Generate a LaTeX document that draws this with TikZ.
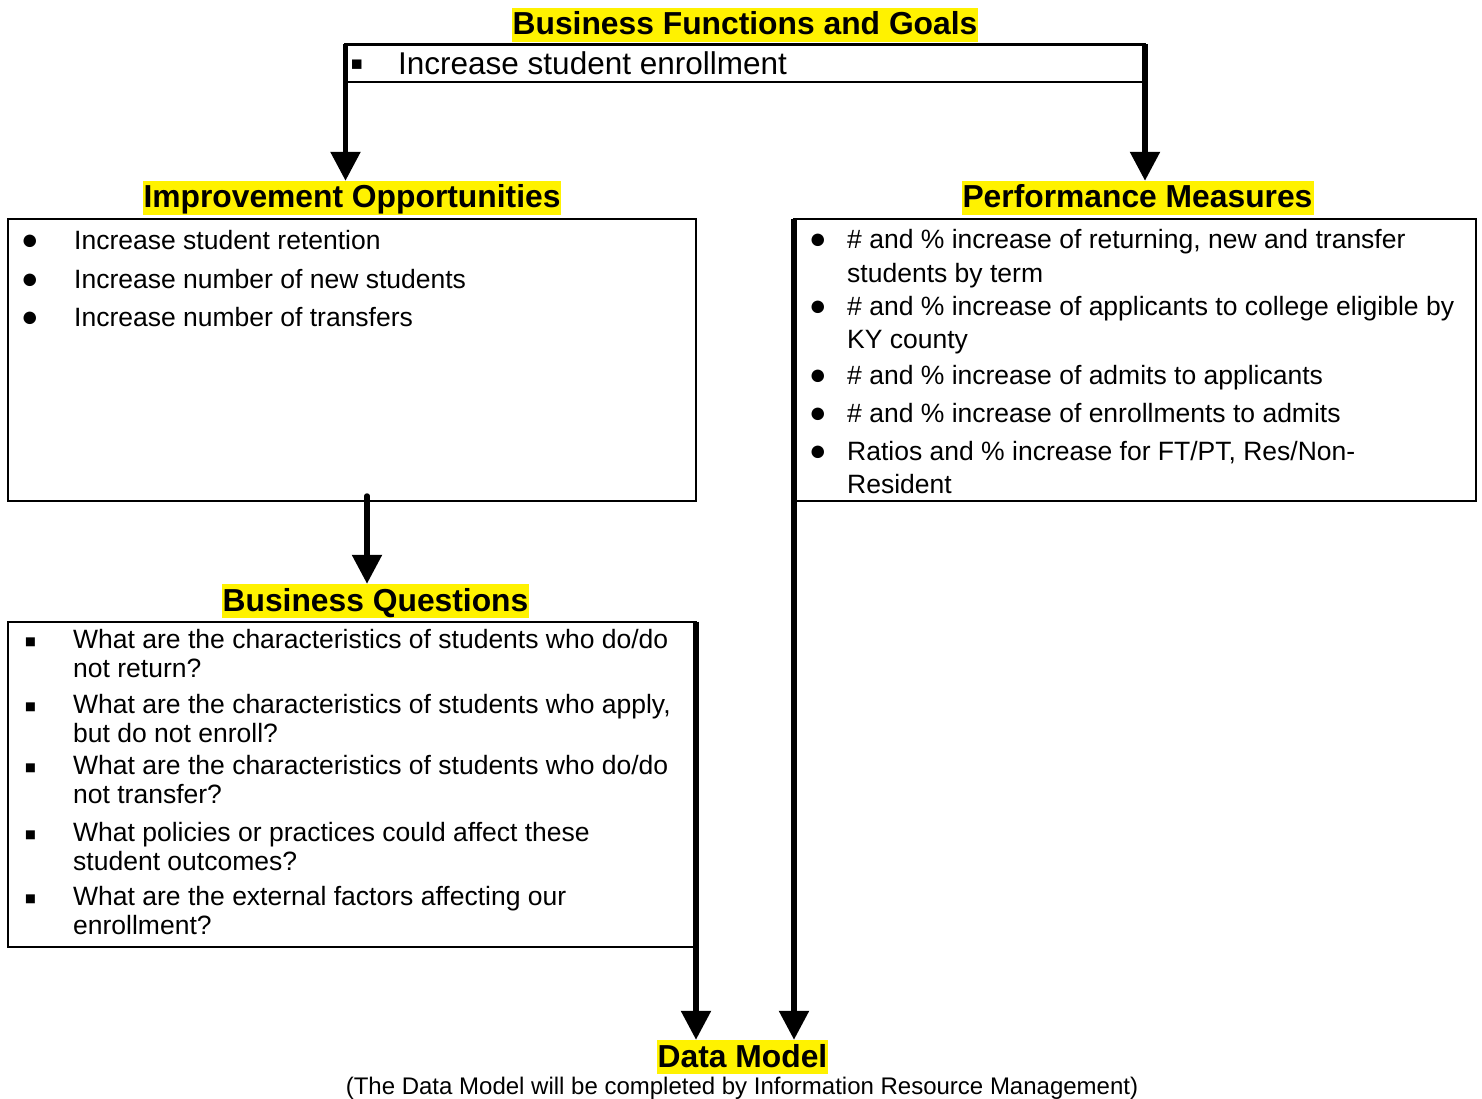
\documentclass[tikz,border=0pt]{standalone}
\usepackage{fontspec}
\setmainfont{Liberation Sans}
\usetikzlibrary{arrows.meta}
\newcommand{\dotbul}[1][53pt]{\llap{\makebox[#1][l]{\fontsize{29}{29}\selectfont ●}}}
\newcommand{\sqbul}{\llap{\makebox[49pt][l]{\raisebox{-5pt}{\fontsize{36}{36}\selectfont ▪}}}}
\begin{document}
\begin{tikzpicture}[x=1pt, y=-1pt, line join=miter,
    head/.style={fill=yellow, font=\fontsize{31.8}{36}\selectfont\bfseries, inner xsep=1pt, inner ysep=0pt, text height=27pt, text depth=7pt, anchor=base},
    box/.style={draw, line width=2pt, inner sep=0pt, outer sep=0pt},
    txt/.style={anchor=base west, align=left, inner sep=0pt, font=\fontsize{26.5}{33}\selectfont},
    arr/.style={line width=5.5pt, -{Triangle[width=29pt,length=29pt]}}]
    \useasboundingbox (0,0) rectangle (1482,1099);
    % headings
    \node[head] (goalshead) at (745,35) {Business Functions and Goals};
    \node[head] (iohead) at (352,208) {Improvement Opportunities};
    \node[head] (pmhead) at (1137.5,208) {Performance Measures};
    \node[head] (bqhead) at (375.5,611) {Business Questions};
    \node[head] (dmhead) at (742.5,1067) {Data Model};
    \node[font=\fontsize{24}{24}\selectfont, anchor=base, inner sep=0pt] (dmnote) at (742,1094) {(The Data Model will be completed by Information Resource Management)};
    % boxes
    \node[box, line width=2.5pt, minimum width=799.5pt, minimum height=37.5pt] (goals) at (745.25,63.25) {};
    \node[box, minimum width=688pt, minimum height=282pt] (io) at (352,360) {};
    \node[box, minimum width=682pt, minimum height=282pt] (pm) at (1135,360) {};
    \node[box, minimum width=688pt, minimum height=325pt] (bq) at (352,784.2) {};
    % texts (two-line items sit on their last line)
    \node[txt, font=\fontsize{31.5}{36}\selectfont] (goals1) at (398,75) {\llap{\makebox[48pt][l]{\raisebox{-2pt}{\fontsize{38}{38}\selectfont ▪}}}Increase student enrollment};
    \node[txt] (io1) at (74,250) {\dotbul Increase student retention};
    \node[txt] (io2) at (74,288) {\dotbul Increase number of new students};
    \node[txt] (io3) at (74,326) {\dotbul Increase number of transfers};
    \node[txt] (pm1) at (847,282) {\dotbul[38pt]\# and \% increase of returning, new and transfer\\students by term};
    \node[txt] (pm2) at (847,348) {\dotbul[38pt]\# and \% increase of applicants to college eligible by\\KY county};
    \node[txt] (pm3) at (847,384) {\dotbul[38pt]\# and \% increase of admits to applicants};
    \node[txt] (pm4) at (847,422) {\dotbul[38pt]\# and \% increase of enrollments to admits};
    \node[txt] (pm5) at (847,493) {\dotbul[38pt]Ratios and \% increase for FT/PT, Res/Non-\\Resident};
    \begin{scope}[txt/.append style={font=\fontsize{26.5}{29}\selectfont}]
    \node[txt] (bq1) at (73,677) {\sqbul What are the characteristics of students who do/do\\not return?};
    \node[txt] (bq2) at (73,742) {\sqbul What are the characteristics of students who apply,\\but do not enroll?};
    \node[txt] (bq3) at (73,803) {\sqbul What are the characteristics of students who do/do\\not transfer?};
    \node[txt] (bq4) at (73,870) {\sqbul What policies or practices could affect these\\student outcomes?};
    \node[txt] (bq5) at (73,934) {\sqbul What are the external factors affecting our\\enrollment?};
    \end{scope}
    % arrows
    \draw[arr] (goals.north west) -- (goals.north west |- iohead.north);
    \draw[arr] (goals.north east) -- (goals.north east |- pmhead.north);
    \draw[arr, line cap=round] ([xshift=15pt,yshift=5pt]io.south) -- ([xshift=15pt]io.south |- bqhead.north);
    \draw[arr] (bq.north east) -- (bq.north east |- dmhead.north);
    \draw[arr] (pm.north west) -- (pm.north west |- dmhead.north);
\end{tikzpicture}
\end{document}
